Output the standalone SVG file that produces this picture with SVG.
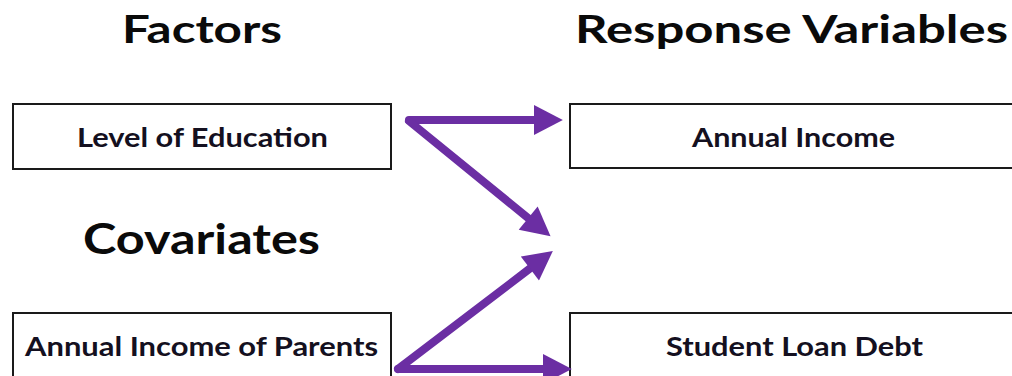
<svg xmlns="http://www.w3.org/2000/svg" width="1012" height="376" viewBox="0 0 1012 376">
<style>
.bg{fill:#ffffff}
.box{fill:#ffffff;stroke:#1a1a1a;stroke-width:2}
.title{font-family:Lato,"Open Sans","Liberation Sans",sans-serif;font-weight:bold;fill:#0a0a0a}
.lbl{font-family:Lato,"Open Sans","Liberation Sans",sans-serif;font-weight:bold;font-size:27px;fill:#141020;text-anchor:middle}
.arr{fill:none;stroke:#6B2EA3;stroke-width:8;stroke-linecap:round}
</style>
<defs>
<marker id="head" markerUnits="userSpaceOnUse" markerWidth="30" markerHeight="30" viewBox="0 -13 25 26" refX="0" refY="0" orient="auto">
<path d="M0,-13 L25,0 L0,13 z" fill="#6B2EA3"/>
</marker>
</defs>
<rect class="bg" x="0" y="0" width="1012" height="376"/>
<g id="headers">
<text class="title" x="122" y="43" font-size="39" textLength="160" lengthAdjust="spacingAndGlyphs">Factors</text>
<text class="title" x="575" y="43" font-size="39" textLength="433" lengthAdjust="spacingAndGlyphs">Response Variables</text>
<text class="title" x="83" y="254" font-size="42" textLength="237" lengthAdjust="spacingAndGlyphs">Covariates</text>
</g>
<g id="node-education">
<rect class="box" x="13" y="104" width="378" height="65"/>
<text class="lbl" x="202.5" y="147" textLength="251" lengthAdjust="spacingAndGlyphs">Level of Education</text>
</g>
<g id="node-income">
<rect class="box" x="570" y="104" width="460" height="64"/>
<text class="lbl" x="793.5" y="147" textLength="203" lengthAdjust="spacingAndGlyphs">Annual Income</text>
</g>
<g id="node-parents">
<rect class="box" x="13" y="313" width="378" height="80"/>
<text class="lbl" x="201.5" y="356" textLength="353" lengthAdjust="spacingAndGlyphs">Annual Income of Parents</text>
</g>
<g id="node-debt">
<rect class="box" x="570" y="313" width="460" height="80"/>
<text class="lbl" x="794.5" y="356" textLength="257" lengthAdjust="spacingAndGlyphs">Student Loan Debt</text>
</g>
<g id="connectors">
<path class="arr" d="M409,120 L534,120" marker-end="url(#head)"/>
<path class="arr" d="M409,121 L528.2,218.1" marker-end="url(#head)"/>
<path class="arr" d="M398,369 L529.9,268.5" marker-end="url(#head)"/>
<path class="arr" d="M398,369 L543,369" marker-end="url(#head)"/>
</g>
</svg>
